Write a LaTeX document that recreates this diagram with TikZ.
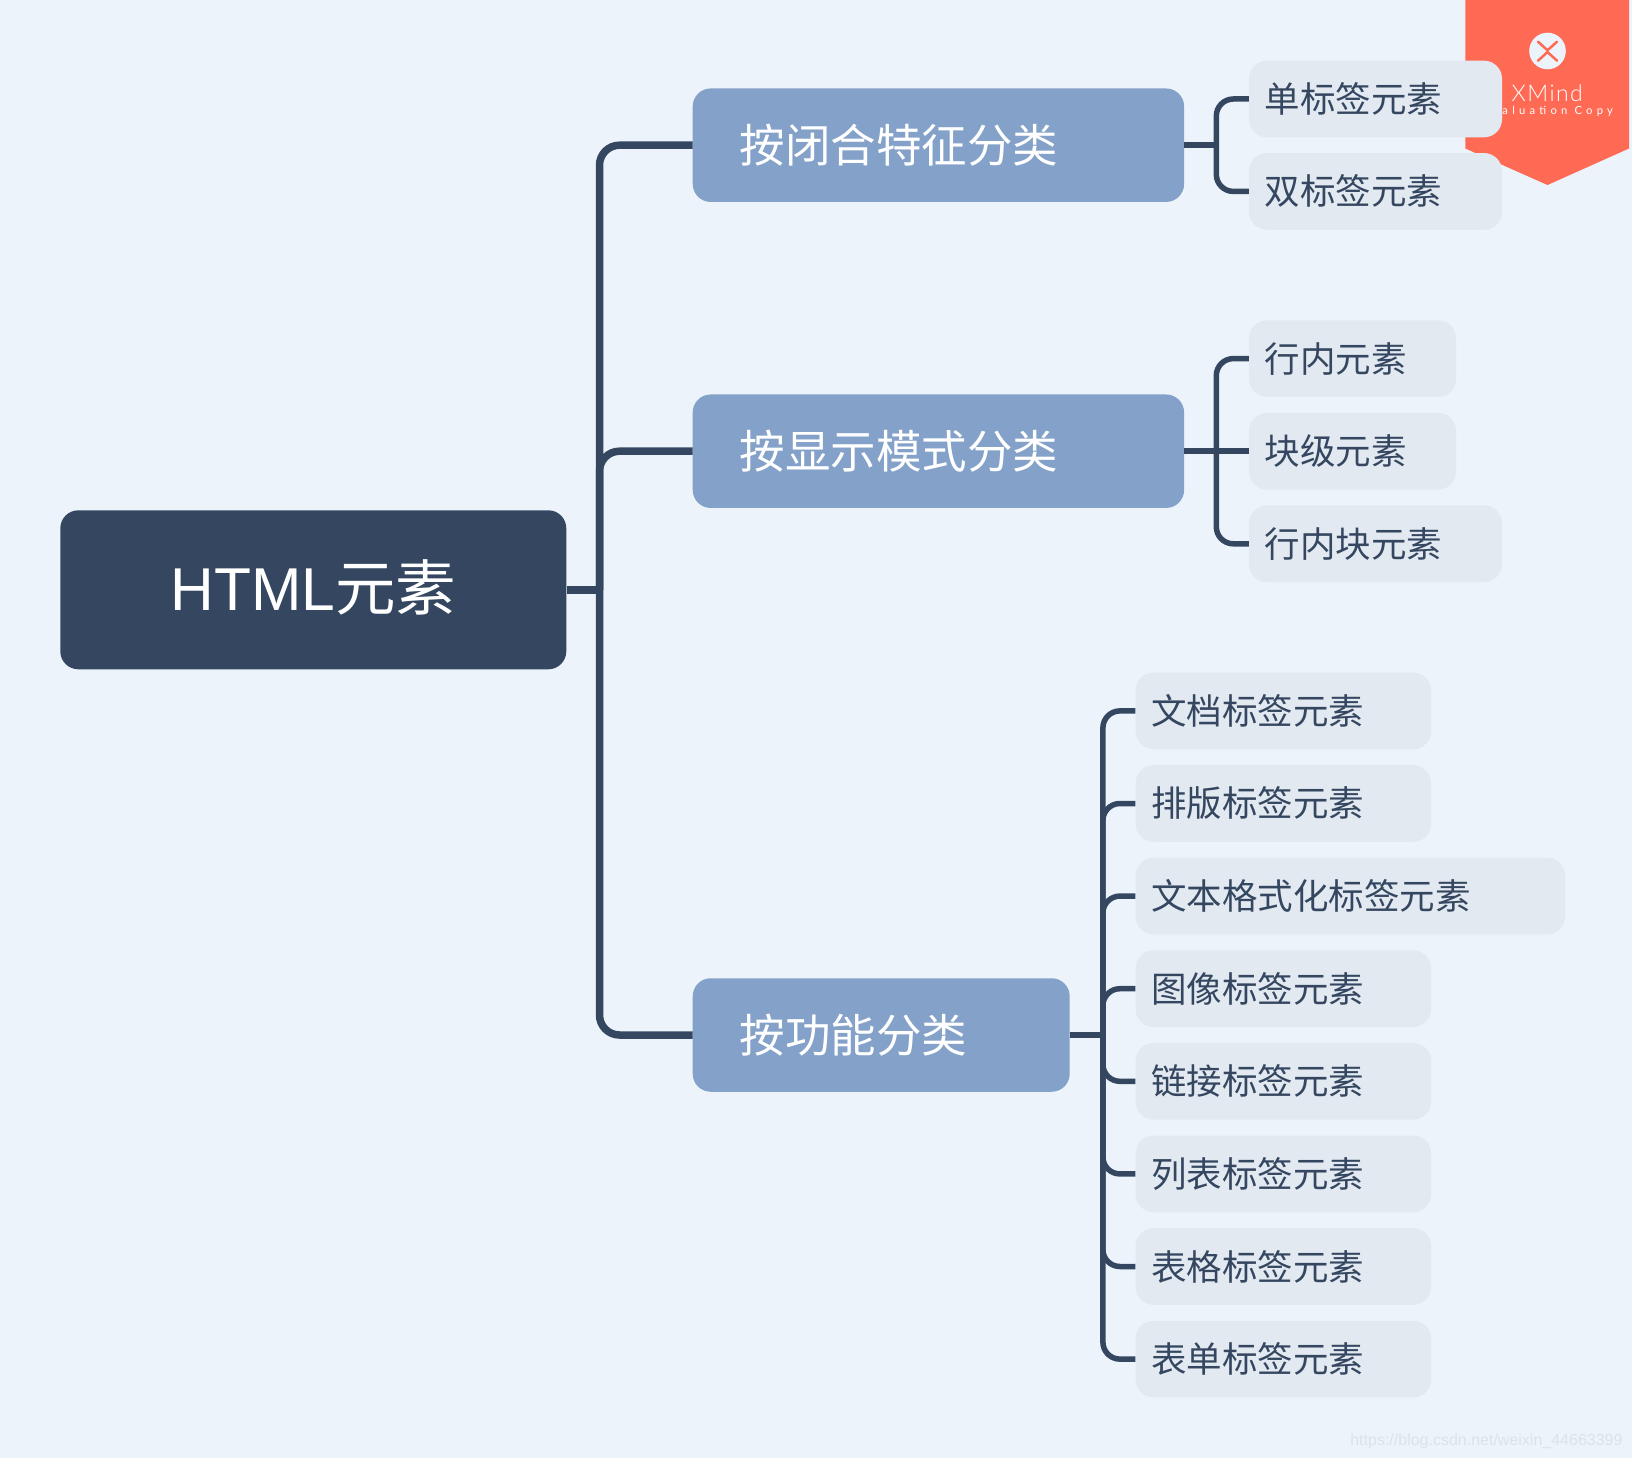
\documentclass[tikz,border=0pt]{standalone}
\usepackage{fontspec}
\usetikzlibrary{positioning}
\setmainfont{Noto Sans CJK SC}
\newfontfamily\latinfont{Liberation Sans}
\newfontfamily\brandfont[LetterSpace=6]{Lato Light}
\newfontfamily\markfont[LetterSpace=38]{Lato}

\definecolor{paper}{HTML}{ECF3FA}
\definecolor{slate}{HTML}{354760}
\definecolor{steel}{HTML}{84A1C9}
\definecolor{mist}{HTML}{E2E9F1}
\definecolor{stamp}{HTML}{FF6A54}
\definecolor{faint}{HTML}{DBE2E8}

\tikzset{
	rootbox/.style={fill=slate, text=white, rounded corners=18pt, minimum width=506pt, minimum height=159pt, text height=53pt, text depth=12pt, font=\fontsize{60.5}{60.5}\selectfont},
	branchbox/.style={fill=steel, text=white, rounded corners=18pt, inner xsep=47pt, inner ysep=0pt, text width=#1, align=left, minimum height=113.5pt, font=\fontsize{45.5}{45.5}\selectfont},
	leafbox/.style={fill=mist, text=slate, rounded corners=18pt, inner xsep=15.5pt, inner ysep=0pt, text width=#1, align=left, minimum height=76.7pt, font=\fontsize{35.5}{35.5}\selectfont},
	trunk/.style={draw=slate, line width=7.5pt, rounded corners=20pt},
	twig/.style={draw=slate, line width=5.5pt, rounded corners=17pt},
	stampmark/.style={draw=stamp, line width=2.5pt, line cap=round}
}

\begin{document}
\begin{tikzpicture}[x=1pt, y=-1pt]

\fill [paper] (0,0) rectangle (1632,1458);
\useasboundingbox (0,0) rectangle (1632,1458);

\fill [stamp] (1465.3,0) -- (1629,0) -- (1629,148.5) -- (1547.5,185) -- (1465.3,148.5) -- cycle;
\node [circle, fill=paper, minimum size=36.6pt, inner sep=0pt] (badge) at (1547.5,51) {};
\draw [stampmark] (1538,41.7) -- (1547.5,50.3) -- (1557,41.7);
\draw [stampmark] (1538,60.7) -- (1547.5,52.1) -- (1557,60.7);
\node [text=white, inner sep=0pt, font=\brandfont\fontsize{23}{23}\selectfont] (brand) at (1547.2,92.8) {XMind};
\node [text=white, inner sep=0pt, font=\markfont\fontsize{11.2}{11.2}\selectfont] (copy) at (1547.5,111.7) {Evaluation Copy};

\node [rootbox] (html) at (313.3,589.8) {{\latinfont HTML}元素};

\node [branchbox=397.4pt, right=126pt of html, yshift=444.6pt] (bra) {按闭合特征分类};
\node [branchbox=397.4pt, right=126pt of html, yshift=138.6pt] (brb) {按显示模式分类};
\node [branchbox=283pt, right=126pt of html, yshift=-445.2pt] (brc) {按功能分类};

\node [leafbox=222pt, right=64.5pt of bra, yshift=46.2pt] (single) {单标签元素};
\node [leafbox=222pt, right=64.5pt of bra, yshift=-46.2pt] (double) {双标签元素};

\node [leafbox=176pt, right=64.5pt of brb, yshift=92.6pt] (inl) {行内元素};
\node [leafbox=176pt, right=64.5pt of brb] (blk) {块级元素};
\node [leafbox=222pt, right=64.5pt of brb, yshift=-92.6pt] (inb) {行内块元素};

\node [leafbox=264.5pt, right=65.5pt of brc, yshift=324.1pt] (doc) {文档标签元素};
\node [leafbox=264.5pt, right=65.5pt of brc, yshift=231.5pt] (lay) {排版标签元素};
\node [leafbox=398.6pt, right=65.5pt of brc, yshift=138.9pt] (fmt) {文本格式化标签元素};
\node [leafbox=264.5pt, right=65.5pt of brc, yshift=46.3pt] (img) {图像标签元素};
\node [leafbox=264.5pt, right=65.5pt of brc, yshift=-46.3pt] (lnk) {链接标签元素};
\node [leafbox=264.5pt, right=65.5pt of brc, yshift=-138.9pt] (lst) {列表标签元素};
\node [leafbox=264.5pt, right=65.5pt of brc, yshift=-231.5pt] (tbl) {表格标签元素};
\node [leafbox=264.5pt, right=65.5pt of brc, yshift=-324.1pt] (frm) {表单标签元素};

\node [text=faint, inner sep=0pt, font=\latinfont\fontsize{16}{16}\selectfont, anchor=east] (url) at (1622.7,1441) {https://blog.csdn.net/weixin\_44663399};

\coordinate [right=33pt of html] (htmlj);
\coordinate [right=32pt of bra] (braj);
\coordinate [right=32pt of brb] (brbj);
\coordinate [right=33pt of brc] (brcj);

\path [trunk] (html) -- (htmlj);
\path [trunk] (htmlj) |- (bra);
\path [trunk] (htmlj) |- (brb);
\path [trunk] (htmlj) |- (brc);

\path [twig] (bra) -- (braj);
\path [twig] (braj) |- (single);
\path [twig] (braj) |- (double);

\path [twig] (brb) -- (blk);
\path [twig] (brbj) |- (inl);
\path [twig] (brbj) |- (inb);

\path [twig] (brc) -- (brcj);
\path [twig] (brcj) |- (doc);
\path [twig] (brcj) |- (lay);
\path [twig] (brcj) |- (fmt);
\path [twig] (brcj) |- (img);
\path [twig] (brcj) |- (lnk);
\path [twig] (brcj) |- (lst);
\path [twig] (brcj) |- (tbl);
\path [twig] (brcj) |- (frm);

\end{tikzpicture}
\end{document}
